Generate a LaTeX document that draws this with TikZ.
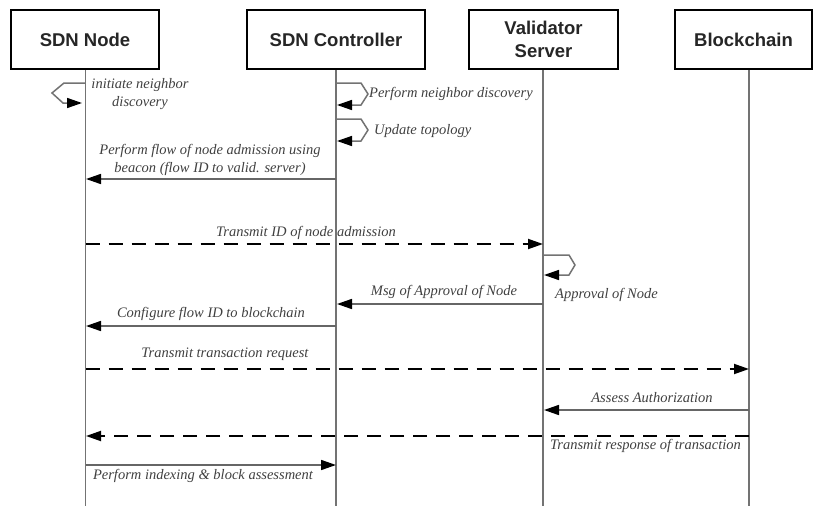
\documentclass[tikz,border=0pt]{standalone}
\usepackage{fontspec}
\setmainfont{Liberation Serif}
\newfontfamily\hdrfont{Liberation Sans}
\usetikzlibrary{arrows.meta}

\tikzset{
  hdr/.style={draw=black, line width=2.4pt, fill=white, inner sep=0pt,
    font=\hdrfont\bfseries\fontsize{18.5}{22}\selectfont, align=center, text=black!85},
  lifeline/.style={draw=black!55, line width=1.2pt},
  tipblk/.style={-{Triangle[length=15pt 0,width=10pt 0,color=black]}},
  msg/.style={tipblk, draw=black!60, line width=1.6pt},
  reply/.style={tipblk, draw=black, line width=1.9pt, dash pattern=on 14pt off 9pt},
  selfloop/.style={tipblk, draw=black!55, line width=1.5pt, line join=miter},
  lbl/.style={font=\itshape\fontsize{14.5}{18}\selectfont, text=black!75, inner sep=0pt, align=center}
}

\begin{document}
\begin{tikzpicture}[x=1pt, y=-1pt]
\useasboundingbox (0,0) rectangle (815,506);

% participant boxes
\node[hdr, minimum width=148pt, minimum height=59pt] (sdn) at (85,39.5) {SDN Node};
\node[hdr, minimum width=178pt, minimum height=59pt] (ctl) at (336,39.5) {SDN Controller};
\node[hdr, minimum width=149pt, minimum height=59pt] (val) at (543.5,39.5) {Validator\\[1pt]Server};
\node[hdr, minimum width=137pt, minimum height=59pt] (bc) at (743.5,39.5) {Blockchain};

% lifelines
\coordinate (sdnTop) at (85.5,70);  \coordinate (sdnBot) at (85.5,506);
\coordinate (ctlTop) at (336,70);   \coordinate (ctlBot) at (336,506);
\coordinate (valTop) at (543,70);   \coordinate (valBot) at (543,506);
\coordinate (bcTop)  at (749,70);   \coordinate (bcBot)  at (749,506);
\draw[lifeline] (sdnTop) -- (sdnBot);
\draw[lifeline] (ctlTop) -- (ctlBot);
\draw[lifeline] (valTop) -- (valBot);
\draw[lifeline] (bcTop) -- (bcBot);

% SDN node: initiate neighbor discovery
\coordinate (s1a) at (85.5,83);
\coordinate (s1b) at (82,103);
\draw[selfloop] (s1a) -- (64,83) -- (52,93) -- (63,103) -- (s1b);
\node[lbl] (t1) at (140,94) {initiate neighbor\\discovery};

% controller: perform neighbor discovery
\coordinate (c1a) at (336,83);
\coordinate (c1b) at (337,105);
\draw[selfloop] (c1a) -- (361,83) -- (368,94) -- (361,105) -- (c1b);
\node[lbl, anchor=west] (t2) at (369,94) {Perform neighbor discovery};

% controller: update topology
\coordinate (c2a) at (336,119);
\coordinate (c2b) at (337,141);
\draw[selfloop] (c2a) -- (361,119) -- (368,130) -- (361,141) -- (c2b);
\node[lbl, anchor=west] (t3) at (374,131) {Update topology};

% node admission via beacon
\coordinate (m4a) at (336,179); \coordinate (m4b) at (86,179);
\draw[msg] (m4a) -- (m4b);
\node[lbl] (t4) at (210,160) {Perform flow of node admission using\\beacon (flow ID to valid. server)};

% transmit ID of node admission
\coordinate (m5a) at (85.5,244); \coordinate (m5b) at (543,244);
\draw[reply] (m5a) -- (m5b);
\node[lbl] (t5) at (306,233) {Transmit ID of node admission};

% validator: approval of node
\coordinate (v1a) at (543,255);
\coordinate (v1b) at (544,275);
\draw[selfloop] (v1a) -- (569,255) -- (575,265) -- (569,275) -- (v1b);
\node[lbl, anchor=west] (t6) at (555,295) {Approval of Node};

% msg of approval
\coordinate (m7a) at (543,304); \coordinate (m7b) at (337,304);
\draw[msg] (m7a) -- (m7b);
\node[lbl] (t7) at (444,292) {Msg of Approval of Node};

% configure flow ID
\coordinate (m8a) at (336,326); \coordinate (m8b) at (86,326);
\draw[msg] (m8a) -- (m8b);
\node[lbl] (t8) at (211,314) {Configure flow ID to blockchain};

% transmit transaction request
\coordinate (m9a) at (85.5,369); \coordinate (m9b) at (749,369);
\draw[reply] (m9a) -- (m9b);
\node[lbl] (t9) at (225,354) {Transmit transaction request};

% assess authorization
\coordinate (m10a) at (749,410); \coordinate (m10b) at (544,410);
\draw[msg] (m10a) -- (m10b);
\node[lbl] (t10) at (652,398) {Assess Authorization};

% transmit response of transaction
\coordinate (m11a) at (749,436); \coordinate (m11b) at (86,436);
\draw[reply] (m11a) -- (m11b);
\node[lbl] (t11) at (645.5,446) {Transmit response of transaction};

% indexing and block assessment
\coordinate (m12a) at (85.5,465); \coordinate (m12b) at (336,465);
\draw[msg] (m12a) -- (m12b);
\node[lbl] (t12) at (203,476) {Perform indexing \& block assessment};
\end{tikzpicture}
\end{document}
